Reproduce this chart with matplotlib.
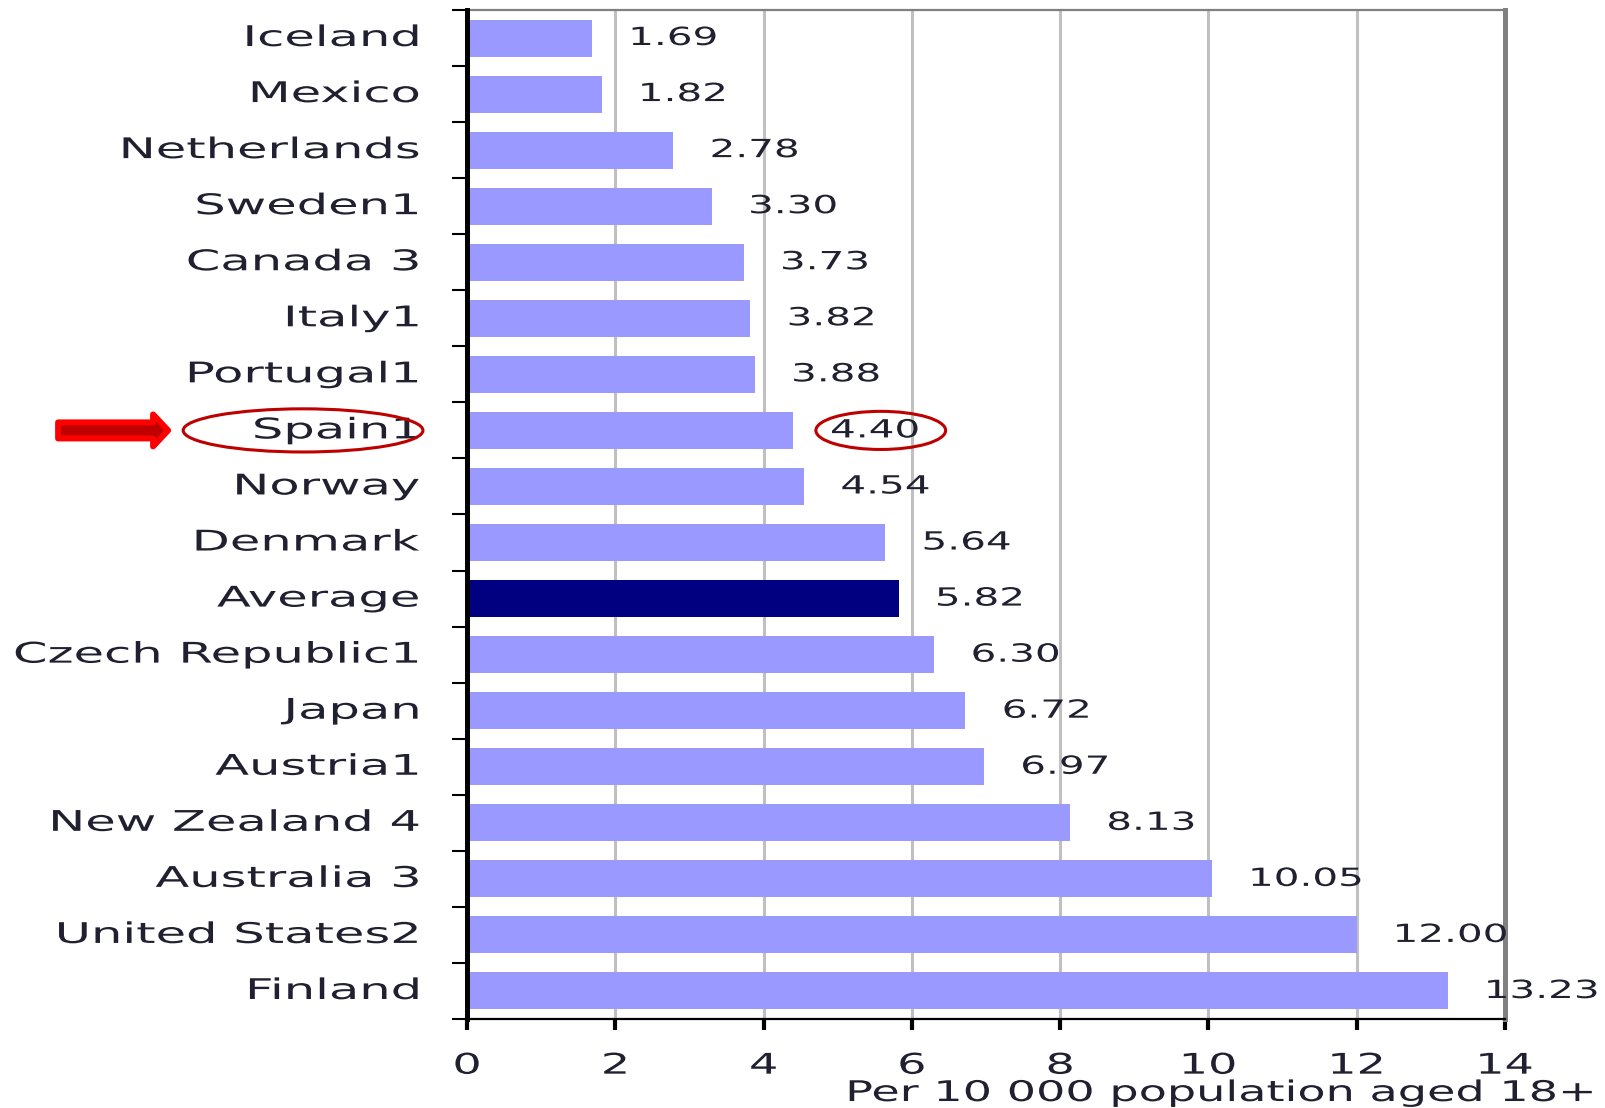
#
# Suicide rate chart - per 10 000 population aged 18+
#

import matplotlib
matplotlib.use('Agg')
import matplotlib.pyplot as plt
from matplotlib.patches import Ellipse, FancyArrow
from matplotlib.patheffects import AbstractPathEffect
from matplotlib.transforms import Affine2D, blended_transform_factory

countries = ['Iceland', 'Mexico', 'Netherlands', 'Sweden1', 'Canada 3', 'Italy1',
             'Portugal1', 'Spain1', 'Norway', 'Denmark', 'Average', 'Czech Republic1',
             'Japan', 'Austria1', 'New Zealand 4', 'Australia 3', 'United States2',
             'Finland']
values = [1.69, 1.82, 2.78, 3.30, 3.73, 3.82, 3.88, 4.40, 4.54, 5.64, 5.82, 6.30,
          6.72, 6.97, 8.13, 10.05, 12.00, 13.23]
xticks = [0, 2, 4, 6, 8, 10, 12, 14]
xlabel = 'Per 10 000 population aged 18+'
highlight = 'Spain1'

BAR   = '#9999FF'
AVG   = '#000080'
TEXT  = '#202030'
RED   = '#BF0000'
SX    = 1.62      # the original font is drawn very wide
SX_LBL = 1.74     # country names are a little wider still


class Stretch(AbstractPathEffect):
    # draw the text glyphs stretched horizontally about one edge
    def __init__(self, sx, ha='left', dy=0):
        super().__init__()
        self.sx = sx
        self.ha = ha
        self.dy = dy

    def draw_path(self, renderer, gc, tpath, affine, rgbFace=None):
        ext = tpath.get_extents()
        px = {'left': ext.x0, 'right': ext.x1, 'center': 0.5 * (ext.x0 + ext.x1)}[self.ha]
        pre = Affine2D().translate(-px, 0).scale(self.sx, 1).translate(px, 0)
        renderer.draw_path(gc, tpath, pre + affine + Affine2D().translate(0, self.dy), rgbFace)


plt.rcParams['font.family'] = ['DejaVu Sans']

fig = plt.figure(figsize=(16.05, 11.08), dpi=100)
ax = fig.add_axes([0.291, 0.0803, 0.6467, 0.9107])

ypos = list(range(len(countries)))
colors = [AVG if c == 'Average' else BAR for c in countries]
ax.barh(ypos, values, height=0.66, color=colors, zorder=3)

# value labels to the right of each bar
for y, v in zip(ypos, values):
    t = ax.annotate('%.2f' % v, (v, y), xytext=(27, 0), textcoords='offset points',
                    ha='left', va='center', fontsize=18, color=TEXT, zorder=4)
    t.set_path_effects([Stretch(SX, 'left')])

ax.set_xlim(0, 14)
ax.set_ylim(len(countries) - 0.5, -0.5)
ax.set_xticks(xticks)
ax.set_xticklabels([str(t) for t in xticks], fontsize=20.5, color=TEXT)
ax.set_yticks(ypos)
ax.set_yticklabels(countries, fontsize=20.5, color=TEXT)
ax.set_yticks([y - 0.5 for y in ypos] + [len(countries) - 0.5], minor=True)
for t in ax.get_yticklabels():
    t.set_path_effects([Stretch(SX_LBL, 'right', dy=3)])
for t in ax.get_xticklabels():
    t.set_path_effects([Stretch(SX, 'center')])

ax.tick_params(axis='y', which='major', length=0, pad=34)
ax.tick_params(axis='y', which='minor', direction='out', length=11, width=1.5, color='black')
ax.tick_params(axis='x', which='major', direction='out', length=8, width=3, pad=15.5)

ax.grid(axis='x', color='#C0C0C0', linewidth=2.2, zorder=1)
ax.set_axisbelow(True)
ax.spines['left'].set_linewidth(3.6)
ax.spines['bottom'].set_linewidth(1.6)
ax.spines['top'].set_linewidth(1.6)
ax.spines['right'].set_linewidth(3.6)
for side in ('left', 'bottom'):
    ax.spines[side].set_color('black')
    ax.spines[side].set_zorder(5)
for side in ('top', 'right'):
    ax.spines[side].set_color('#808080')

xl = fig.text(0.9938, 0.0063, xlabel, ha='right', va='baseline', fontsize=20.5, color=TEXT)
xl.set_path_effects([Stretch(SX, 'right')])

# highlight Spain: ellipses round label and value, arrow pointing at label
yi = countries.index(highlight)
vi = values[yi]
lbl = blended_transform_factory(ax.transAxes, ax.transData)
ax.add_patch(Ellipse((-0.158, yi), 0.231, 0.77, transform=lbl, fill=False,
                     edgecolor=RED, linewidth=2.2, clip_on=False, zorder=6))
ax.add_patch(Ellipse((vi + 1.18, yi), 1.75, 0.68, fill=False,
                     edgecolor=RED, linewidth=2.2, clip_on=False, zorder=6))
ax.add_patch(FancyArrow(-0.394, yi, 0.106, 0, width=0.286, head_width=0.57,
                        head_length=0.0145, length_includes_head=True, transform=lbl,
                        facecolor=RED, edgecolor='#FF0000', linewidth=4.3,
                        joinstyle='round', clip_on=False, zorder=6))

fig.savefig('out.png', dpi=100)
